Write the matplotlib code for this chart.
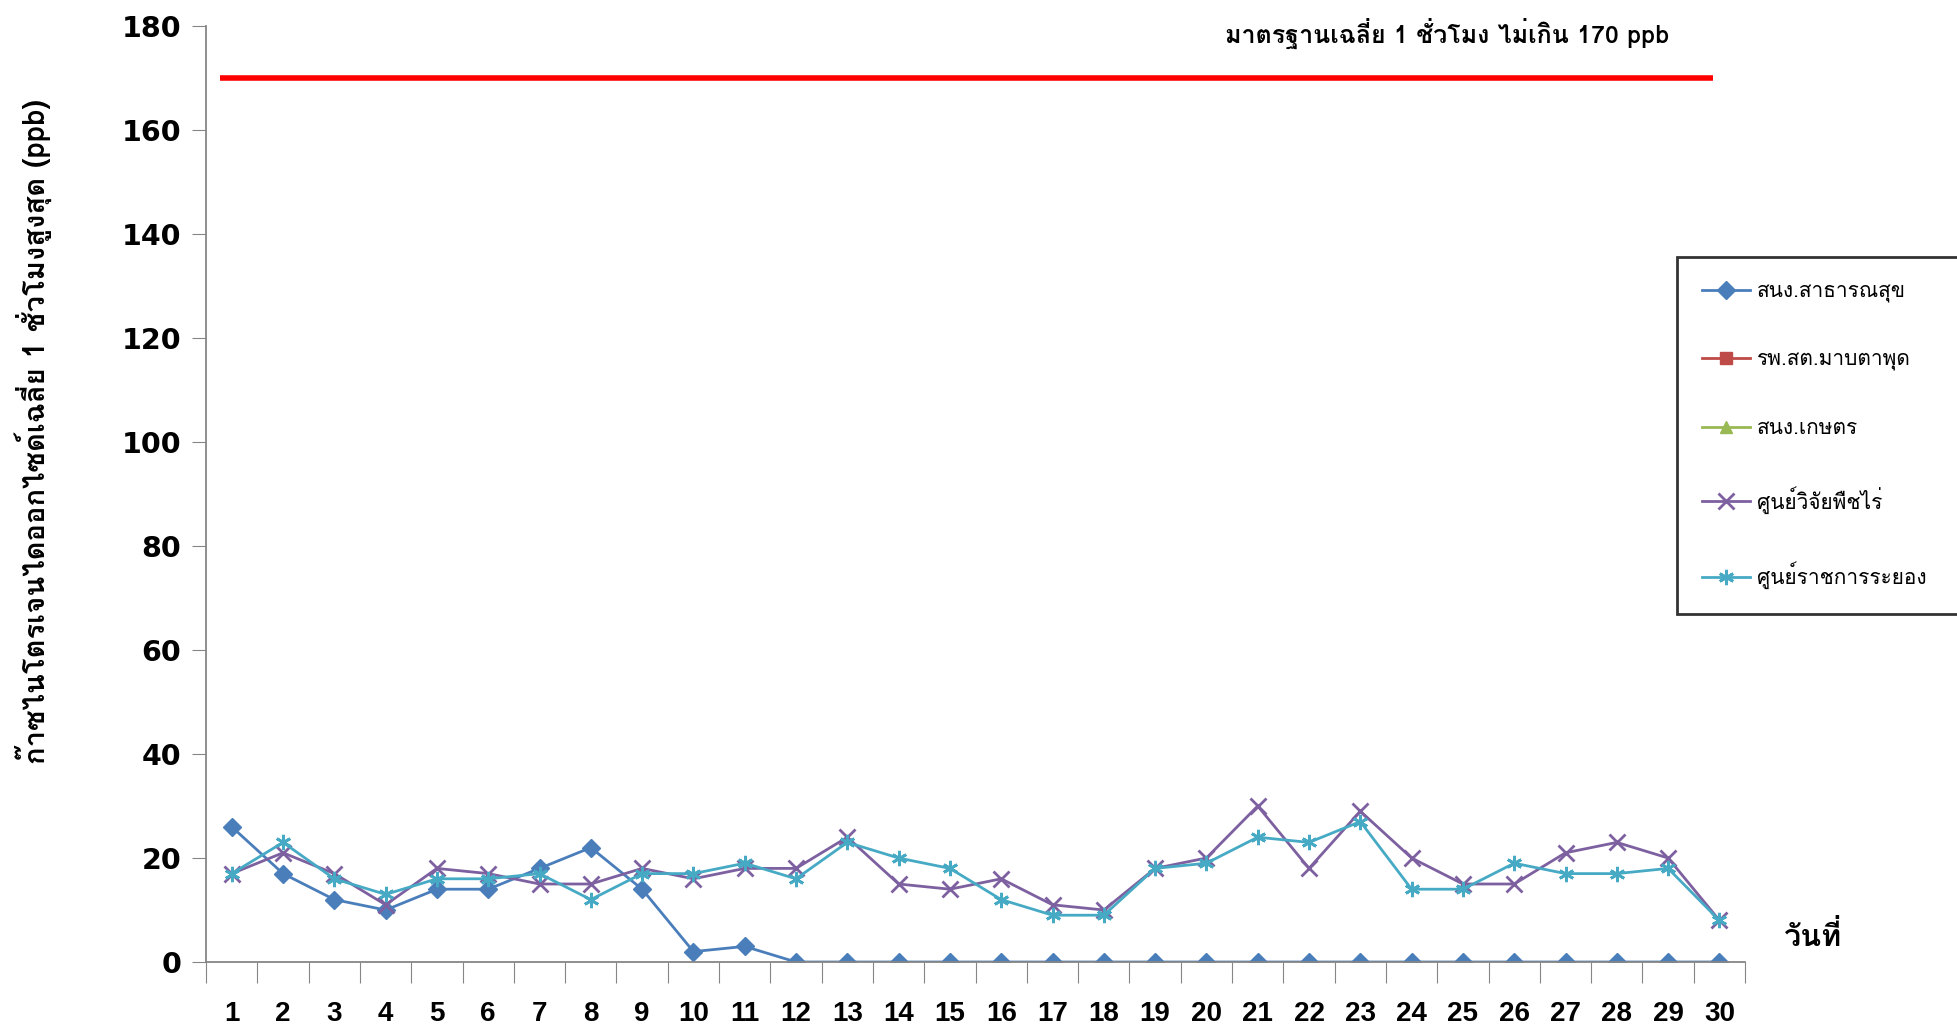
import numpy as np
import matplotlib
matplotlib.use('Agg')
import matplotlib.pyplot as plt

days = list(range(1, 31))
public_health = [26, 17, 12, 10, 14, 14, 18, 22, 14, 2, 3, 0, 0, 0, 0,
                 0, 0, 0, 0, 0, 0, 0, 0, 0, 0, 0, 0, 0, 0, 0]
maptaphut = [np.nan] * 30
agriculture = [np.nan] * 30
field_crops = [17, 21, 17, 11, 18, 17, 15, 15, 18, 16, 18, 18, 24, 15, 14,
               16, 11, 10, 18, 20, 30, 18, 29, 20, 15, 15, 21, 23, 20, 8]
gov_center = [17, 23, 16, 13, 16, 16, 17, 12, 17, 17, 19, 16, 23, 20, 18,
              12, 9, 9, 18, 19, 24, 23, 27, 14, 14, 19, 17, 17, 18, 8]
standard = 170

plt.rcParams['font.family'] = ['Loma', 'Liberation Sans', 'DejaVu Sans']

fig = plt.figure(figsize=(19.57, 10.28), dpi=100)
ax = fig.add_axes([0.1053, 0.0642, 0.7864, 0.9105])

ax.plot(days, public_health, color='#4A7EBB', marker='D', markersize=9, lw=2, label='สนง.สาธารณสุข')
ax.plot(days, maptaphut, color='#BE4B48', marker='s', markersize=9, lw=2, label='รพ.สต.มาบตาพุด')
ax.plot(days, agriculture, color='#98B954', marker='^', markersize=9, lw=2, label='สนง.เกษตร')
ax.plot(days, field_crops, color='#7D60A0', marker='x', markersize=11, mew=2, lw=2, label='ศูนย์วิจัยพืชไร่')
ax.plot(days, gov_center, color='#46AAC5', marker=(6, 2, 0), markersize=11, mew=2, lw=2, label='ศูนย์ราชการระยอง')
ax.plot([0.77, 29.87], [standard, standard], color='red', lw=4, solid_capstyle='butt')

ax.text(24.7, 178.5, 'มาตรฐานเฉลี่ย 1 ชั่วโมง ไม่เกิน 170 ppb', ha='center', va='center',
        fontsize=18, fontweight='bold')

ax.set_xlim(0.5, 30.5)
ax.set_ylim(0, 180)
ax.set_yticks(range(0, 181, 20))
ax.set_xticks(np.arange(0.5, 31, 1))
ax.set_xticklabels([])
ax.set_xticks(days, minor=True)
ax.set_xticklabels([str(d) for d in days], minor=True, fontsize=20, fontweight='bold',
                   family=['Liberation Sans'])
ax.tick_params(axis='x', which='major', direction='out', length=15, color='#868686')
ax.tick_params(axis='x', which='minor', length=0, pad=28)
ax.tick_params(axis='y', direction='out', length=10, color='#868686', pad=8)
for lbl in ax.get_yticklabels():
    lbl.set_fontsize(20.5)
    lbl.set_fontweight('bold')
    lbl.set_family(['DejaVu Sans'])

for s in ['top', 'right']:
    ax.spines[s].set_visible(False)
for s in ['left', 'bottom']:
    ax.spines[s].set_color('#868686')
    ax.spines[s].set_linewidth(1.3)

fig.text(0.017, 0.58, 'ก๊าซไนโตรเจนไดออกไซด์เฉลี่ย 1 ชั่วโมงสูงสุด (ppb)', rotation=90,
         ha='center', va='center', fontsize=21, fontweight='bold')
fig.text(0.9265, 0.089, 'วันที่', ha='center', va='center', fontsize=22, fontweight='bold')

# legend box runs off the right edge like the original
leg = ax.legend(loc='upper left', bbox_to_anchor=(0.956, 0.453, 0.21, 0.3), mode='expand',
                fontsize=15, frameon=True, fancybox=False, edgecolor='black',
                labelspacing=2.3, handlelength=2.3, borderpad=1.2, handletextpad=0.3,
                borderaxespad=0)
leg.get_frame().set_linewidth(2)

fig.savefig('out.png', dpi=100)
